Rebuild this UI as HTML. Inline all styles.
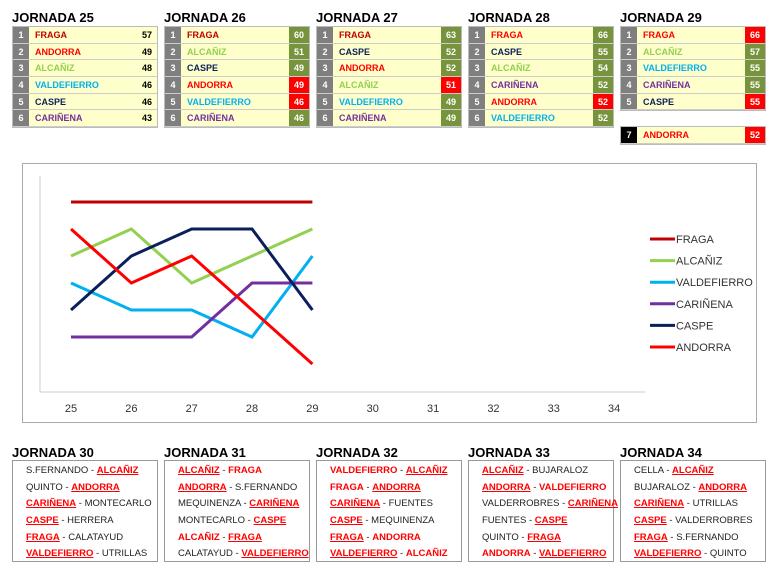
<!DOCTYPE html>
<html><head><meta charset="utf-8">
<style>
body{margin:0;width:780px;height:573px;background:#fff;font-family:"Liberation Sans",Arial,sans-serif;position:relative;overflow:hidden}
.h{position:absolute;font-weight:bold;font-size:13px;color:#000}
.t{position:absolute;width:146px;border:1px solid #bbb;box-sizing:border-box}
.r{display:flex;height:16.7px;font-size:9px;font-weight:bold;line-height:16.7px;border-bottom:1px solid #ccc;box-sizing:border-box}
.n{width:16px;background:#7f7f7f;color:#fff;text-align:center}
.nm{flex:1;background:#ffffcc;padding-left:6px}
.s{width:20px;text-align:center;background:#ffffcc;color:#000}
.g{background:#77933c;color:#fff}.rd{background:#ff0000;color:#fff}
.f{position:absolute;width:146px;height:102px;border:1px solid #999;box-sizing:border-box;padding-top:2px}
.fr{height:16.7px;line-height:16.7px;font-size:9.5px;color:#222;padding-left:13px;white-space:nowrap}
.fr b{color:#ff0000}.fr u{color:#ff0000;font-weight:bold}
</style></head><body>
<div id="tables"></div>
<div id="fix"></div>
<svg id="chart" width="780" height="573" style="position:absolute;left:0;top:0;pointer-events:none"></svg>
<script>
const C={FRAGA:"#c00000",ANDORRA:"#ff0000","ALCAÑIZ":"#92d050",VALDEFIERRO:"#00b0f0",CASPE:"#0a1f5c","CARIÑENA":"#7030a0"};
const standings=[
 [["FRAGA",57,""],["ANDORRA",49,""],["ALCAÑIZ",48,""],["VALDEFIERRO",46,""],["CASPE",46,""],["CARIÑENA",43,""]],
 [["FRAGA",60,"g"],["ALCAÑIZ",51,"g"],["CASPE",49,"g"],["ANDORRA",49,"rd"],["VALDEFIERRO",46,"rd"],["CARIÑENA",46,"g"]],
 [["FRAGA",63,"g"],["CASPE",52,"g"],["ANDORRA",52,"g"],["ALCAÑIZ",51,"rd"],["VALDEFIERRO",49,"g"],["CARIÑENA",49,"g"]],
 [["FRAGA",66,"g"],["CASPE",55,"g"],["ALCAÑIZ",54,"g"],["CARIÑENA",52,"g"],["ANDORRA",52,"rd"],["VALDEFIERRO",52,"g"]],
 [["FRAGA",66,"rd"],["ALCAÑIZ",57,"g"],["VALDEFIERRO",55,"g"],["CARIÑENA",55,"g"],["CASPE",55,"rd"]]
];
const tb=document.getElementById('tables');
standings.forEach((rows,i)=>{
 const x=12+i*152;
 const h=document.createElement('div');h.className='h';h.style.left=x+'px';h.style.top='10px';h.textContent='JORNADA '+(25+i);
 
 
 tb.appendChild(h);
 const t=document.createElement('div');t.className='t';t.style.left=x+'px';t.style.top='26px';
 
 
 rows.forEach((r,k)=>{
  const fr=(r[0]=="FRAGA"&&i>=3)?"#ff0000":C[r[0]];
  t.innerHTML+=`<div class="r"><div class="n">${k+1}</div><div class="nm" style="color:${fr}">${r[0]}</div><div class="s ${r[2]}">${r[1]}</div></div>`;
 });
 tb.appendChild(t);
});
const ex=document.createElement('div');ex.className='t';ex.style.left='620px';ex.style.top='126px';


ex.innerHTML='<div class="r"><div class="n" style="background:#000">7</div><div class="nm" style="color:#ff0000">ANDORRA</div><div class="s rd">52</div></div>';
tb.appendChild(ex);

const fixtures=[
 ["S.FERNANDO - <u>ALCAÑIZ</u>","QUINTO - <u>ANDORRA</u>","<u>CARIÑENA</u> - MONTECARLO","<u>CASPE</u> - HERRERA","<u>FRAGA</u> - CALATAYUD","<u>VALDEFIERRO</u> - UTRILLAS"],
 ["<u>ALCAÑIZ</u> - <b>FRAGA</b>","<u>ANDORRA</u> - S.FERNANDO","MEQUINENZA - <u>CARIÑENA</u>","MONTECARLO - <u>CASPE</u>","<b>ALCAÑIZ</b> - <u>FRAGA</u>","CALATAYUD - <u>VALDEFIERRO</u>"],
 ["<b>VALDEFIERRO</b> - <u>ALCAÑIZ</u>","<b>FRAGA</b> - <u>ANDORRA</u>","<u>CARIÑENA</u> - FUENTES","<u>CASPE</u> - MEQUINENZA","<u>FRAGA</u> - <b>ANDORRA</b>","<u>VALDEFIERRO</u> - <b>ALCAÑIZ</b>"],
 ["<u>ALCAÑIZ</u> - BUJARALOZ","<u>ANDORRA</u> - <b>VALDEFIERRO</b>","VALDERROBRES - <u>CARIÑENA</u>","FUENTES - <u>CASPE</u>","QUINTO - <u>FRAGA</u>","<b>ANDORRA</b> - <u>VALDEFIERRO</u>"],
 ["CELLA - <u>ALCAÑIZ</u>","BUJARALOZ - <u>ANDORRA</u>","<u>CARIÑENA</u> - UTRILLAS","<u>CASPE</u> - VALDERROBRES","<u>FRAGA</u> - S.FERNANDO","<u>VALDEFIERRO</u> - QUINTO"]
];
const fx=document.getElementById('fix');
fixtures.forEach((rows,i)=>{
 const x=12+i*152;
 const h=document.createElement('div');h.className='h';h.style.left=x+'px';h.style.top='445px';h.textContent='JORNADA '+(30+i);
 
 
 fx.appendChild(h);
 const b=document.createElement('div');b.className='f';b.style.left=x+'px';b.style.top='460px';
 
 
 b.innerHTML=rows.map(r=>`<div class="fr">${r}</div>`).join('');
 fx.appendChild(b);
});

// chart
const rounds=[25,26,27,28,29,30,31,32,33,34];
const series=[
 ["FRAGA","#c00000",[1,1,1,1,1]],
 ["ALCAÑIZ","#92d050",[3,2,4,3,2]],
 ["VALDEFIERRO","#00b0f0",[4,5,5,6,3]],
 ["CARIÑENA","#7030a0",[6,6,6,4,4]],
 ["CASPE","#0a1f5c",[5,3,2,2,5]],
 ["ANDORRA","#ff0000",[2,4,3,5,7]]
];
const xS=r=>71+(r-25)*60.35, yS=p=>202+(p-1)*27;
const svg=document.getElementById('chart');const NS="http://www.w3.org/2000/svg";
function el(t,a,n){const e=document.createElementNS(NS,t);for(const k in a)e.setAttribute(k,a[k]);svg.appendChild(e);return e;}
el('rect',{x:22.5,y:163.5,width:734,height:259,fill:'none',stroke:'#aaa'},'chart-frame');
el('line',{x1:40,y1:176,x2:40,y2:392,stroke:'#ccc'},'y-axis');
el('line',{x1:40,y1:392,x2:645,y2:392,stroke:'#ccc'},'x-axis');
rounds.forEach(r=>{const t=el('text',{x:xS(r),y:412,'text-anchor':'middle','font-size':'11','fill':'#333','font-family':'Liberation Sans,sans-serif'},'x-tick-label');t.textContent=r;});
series.forEach((s,i)=>{
 el('polyline',{points:s[2].map((p,k)=>xS(rounds[k])+','+yS(p)).join(' '),fill:'none',stroke:s[1],'stroke-width':3},'line-'+s[0].toLowerCase());
 const ly=239+i*21.6;
 el('line',{x1:650,y1:ly,x2:675,y2:ly,stroke:s[1],'stroke-width':3},'legend-swatch');
 const t=el('text',{x:676,y:ly+4,'font-size':'11','fill':'#333','font-family':'Liberation Sans,sans-serif'},'legend-entry');t.textContent=s[0];
});
</script>
</body></html>
